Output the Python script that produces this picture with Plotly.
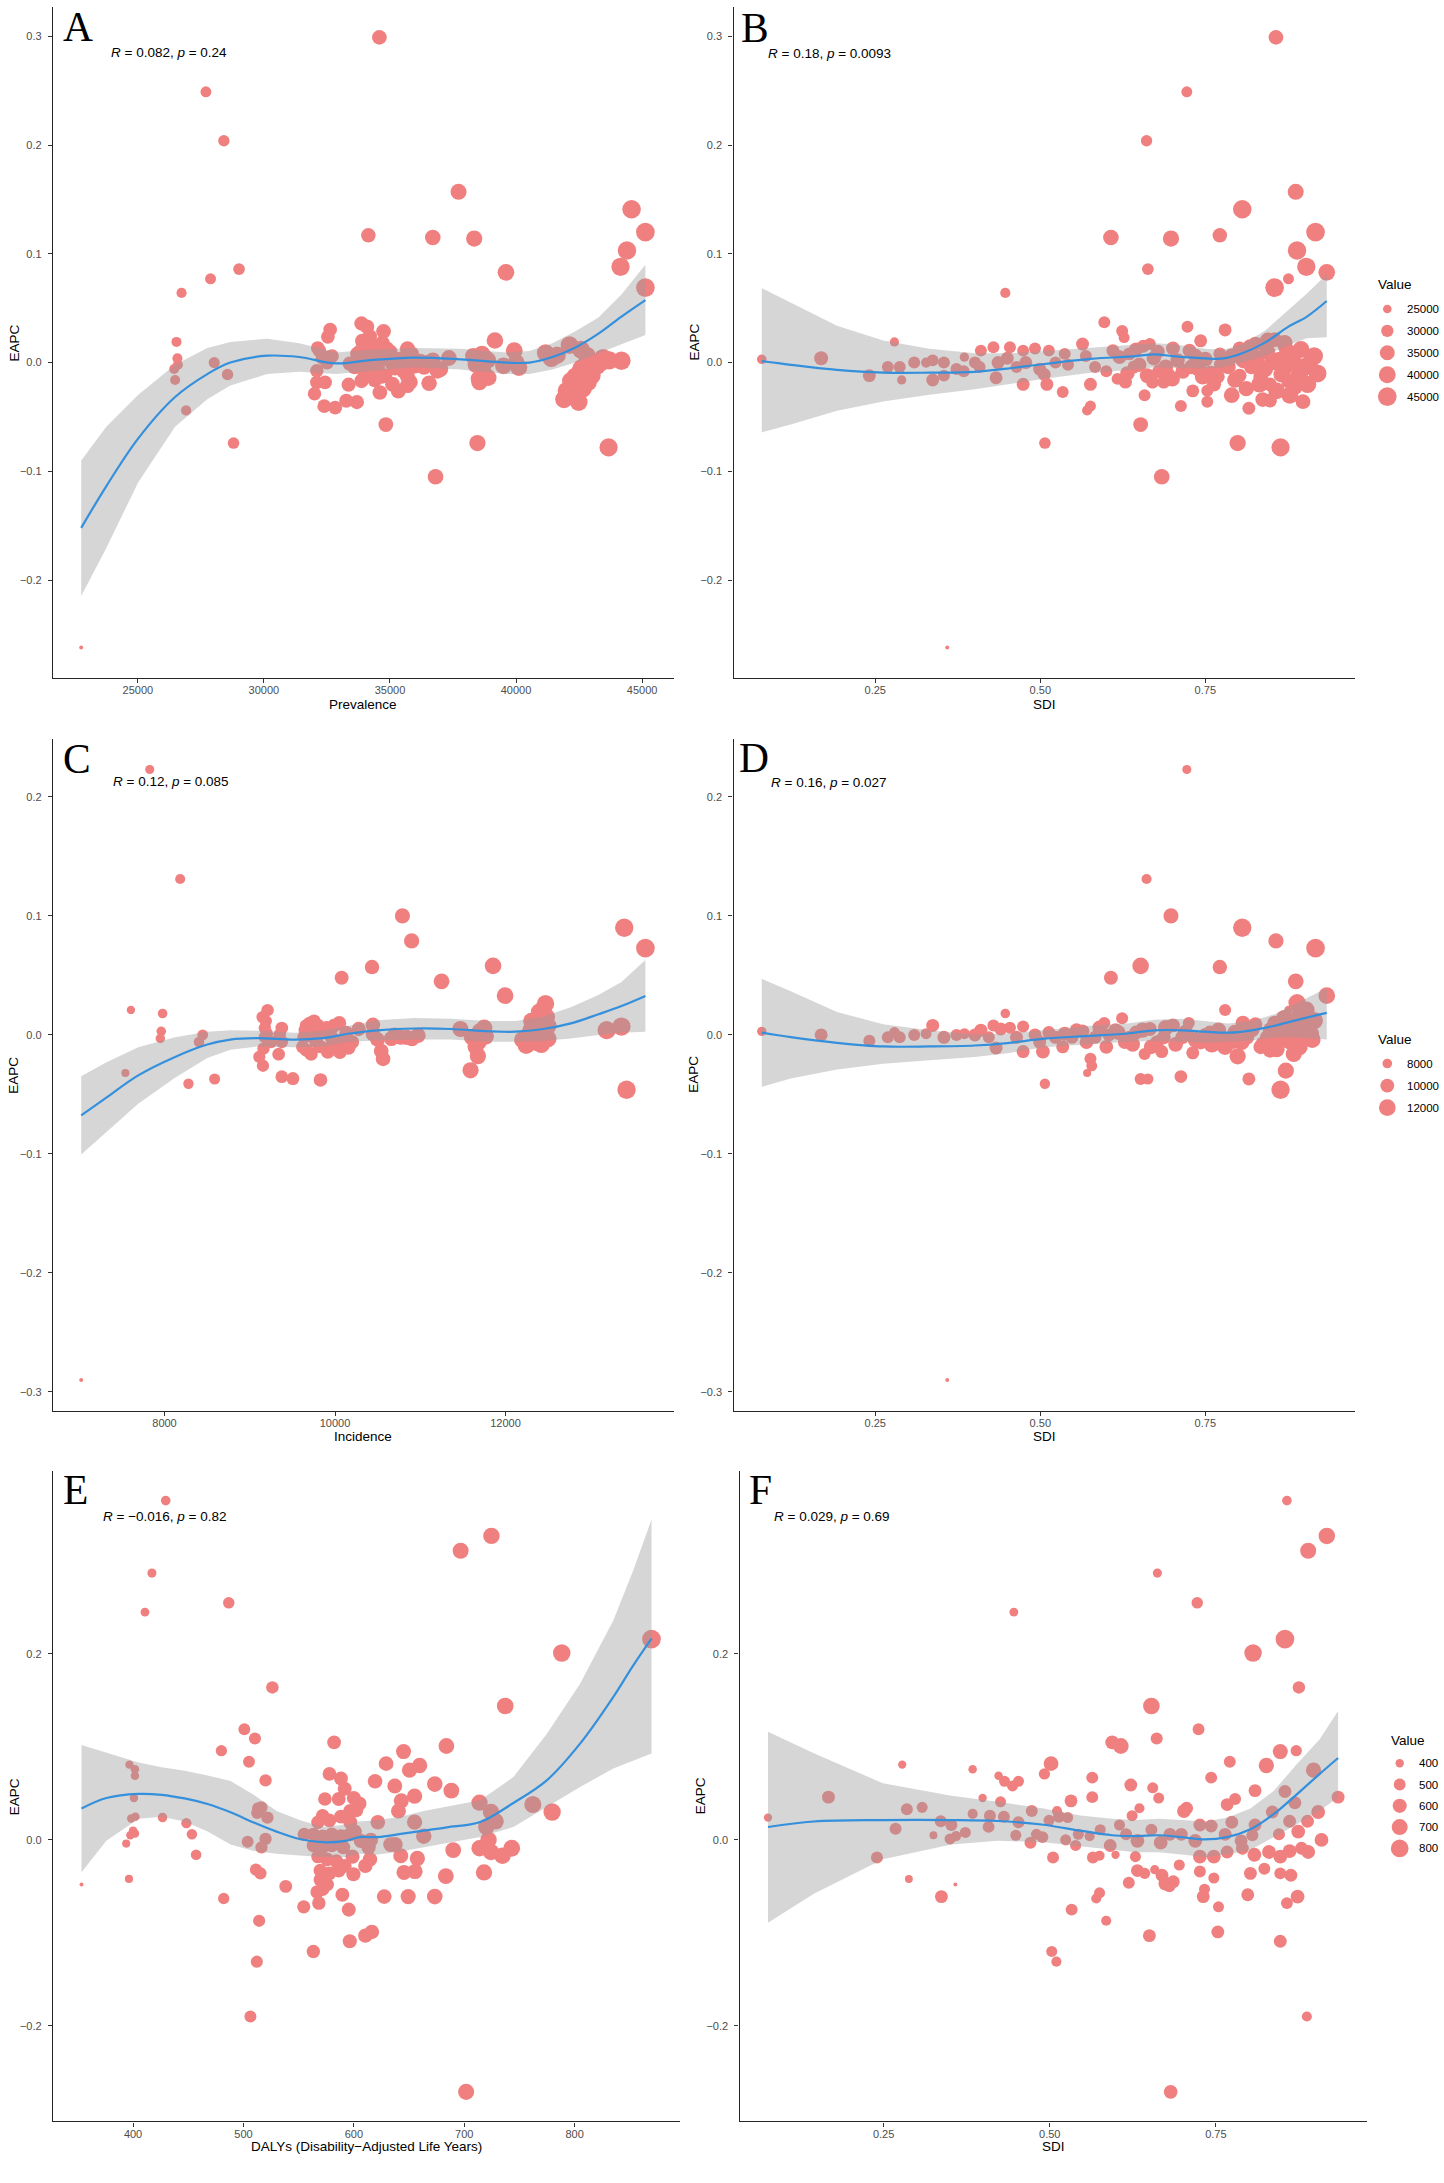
import plotly.graph_objects as go

W, H = 1444, 2183

# ---------- Data: Prevalence (A, B) ----------
a_prev = [34581, 27701, 28413, 37720, 44582, 45130, 34143, 36698, 38341, 44400,
          44144, 29015, 39600, 27884, 26734, 45130, 22755, 36807, 43670, 38469,
          28796, 34837, 26916, 28559, 28030, 26533, 26570, 26588, 26442, 26479,
          32136, 32537, 32629, 32318, 32099, 32501, 32592, 32099, 32428, 32008,
          32391, 32829, 33359, 33267, 33687, 33870, 34089, 33961, 34143, 33596,
          33870, 33778, 34326, 34508, 34746, 34873, 34691, 34600, 35056, 34782,
          34326, 35695, 35603, 35695, 35695, 35330, 35968, 36516, 36881, 36552,
          37337, 38432, 38523, 38706, 38888, 39162, 39929, 40111, 41170, 41626,
          42119, 42575, 42812, 43451, 44181, 41900, 42484, 42265, 42356, 42538,
          42721, 43086, 42173, 38600, 38750, 38800, 34000, 34300, 34500, 35000,
          35200, 33900, 34700, 35750, 35800, 36200, 42600, 42900, 43200, 42000,
          42450, 42700, 33400, 33700, 34200, 32700, 32200, 38400, 40000, 36000,
          33800, 34050, 34250, 34400, 34600, 34800, 34950, 35100, 35400, 35550,
          35850, 36350, 36700, 37000, 38300, 38550, 38650, 38900, 39500, 41400,
          42300, 42650, 42850, 43000, 43350, 43700]
a_eapc = [0.299, 0.249, 0.204, 0.157, 0.141, 0.120, 0.117, 0.115, 0.114, 0.103,
          0.088, 0.086, 0.083, 0.077, 0.064, 0.069, -0.262, -0.105, -0.078, -0.074,
          -0.074, -0.057, -0.044, -0.011, 0.000, 0.019, 0.004, -0.002, -0.006, -0.016,
          0.0135, 0.0237, 0.0304, 0.0042, -0.0076, 0.0000, 0.0051, -0.0182, -0.0182, -0.0287,
          -0.0401, -0.0414, -0.0203, -0.0351, -0.0363, 0.0359, 0.0330, 0.0169, 0.0042, -0.0042,
          -0.0169, 0.0000, 0.0127, -0.0042, 0.0287, 0.0127, -0.0127, -0.0275, 0.0000, 0.0042,
          -0.0127, 0.0127, 0.0000, -0.0127, -0.0211, -0.0262, 0.0000, 0.0000, -0.0076, -0.0190,
          0.0042, 0.0000, -0.0148, -0.0085, 0.0021, 0.0203, 0.0110, -0.0046, 0.0089, 0.0068,
          0.0161, 0.0118, 0.0063, 0.0042, 0.0017, -0.0338, -0.0363, -0.0232, -0.0127, -0.0085,
          -0.0042, -0.0021, -0.0169, -0.005, -0.012, 0.004, -0.010, 0.006, -0.008, 0.010,
          -0.005, 0.020, 0.018, 0.005, -0.018, 0.001, -0.005, -0.009, -0.003, -0.026,
          -0.020, -0.014, -0.001, 0.008, 0.024, 0.006, 0.011, -0.002, 0.000, -0.003,
          0.010, -0.004, 0.016, -0.016, 0.008, -0.012, 0.004, -0.020, 0.003, -0.008,
          0.008, -0.004, 0.002, -0.006, 0.006, -0.018, 0.008, -0.014, -0.003, 0.004,
          -0.030, -0.024, -0.018, -0.012, 0.000, 0.002]

b_sdi = [0.857, 0.722, 0.661, 0.887, 0.806, 0.917, 0.607, 0.698, 0.772, 0.889,
         0.903, 0.663, 0.934, 0.876, 0.447, 0.855, 0.359, 0.684, 0.864, 0.799,
         0.507, 0.652, 0.078, 0.168, 0.241, 0.269, 0.279, 0.287, 0.290, 0.309,
         0.327, 0.337, 0.337, 0.354, 0.354, 0.373, 0.385, 0.384, 0.401, 0.410,
         0.408, 0.429, 0.433, 0.436, 0.454, 0.450, 0.464, 0.474, 0.474, 0.478,
         0.492, 0.499, 0.506, 0.510, 0.513, 0.523, 0.534, 0.537, 0.542, 0.564,
         0.569, 0.576, 0.576, 0.571, 0.583, 0.597, 0.600, 0.610, 0.617, 0.624,
         0.627, 0.629, 0.635, 0.642, 0.656, 0.658, 0.666, 0.670, 0.680, 0.687,
         0.694, 0.701, 0.713, 0.723, 0.726, 0.729, 0.731, 0.743, 0.746, 0.753,
         0.753, 0.769, 0.772, 0.780, 0.785, 0.802, 0.802, 0.816, 0.820, 0.826,
         0.834, 0.837, 0.848, 0.848, 0.851, 0.855, 0.865, 0.872, 0.876, 0.882,
         0.886, 0.888, 0.898, 0.909,
         0.620, 0.632, 0.645, 0.650, 0.662, 0.672, 0.678, 0.690, 0.700, 0.708,
         0.716, 0.735, 0.740, 0.750, 0.758, 0.763, 0.775, 0.790, 0.795, 0.808,
         0.812, 0.828, 0.832, 0.840, 0.844, 0.858, 0.862, 0.868, 0.870, 0.878,
         0.880, 0.892, 0.895, 0.900, 0.905, 0.915, 0.920, 0.845, 0.818, 0.790]
b_eapc = [0.299, 0.249, 0.204, 0.157, 0.141, 0.120, 0.115, 0.114, 0.117, 0.103,
          0.088, 0.086, 0.083, 0.077, 0.064, 0.069, -0.262, -0.105, -0.078, -0.074,
          -0.074, -0.057, 0.003, 0.004, -0.012, -0.004, 0.019, -0.004, -0.016, 0.000,
          0.000, 0.002, -0.016, 0.000, -0.012, -0.006, 0.005, -0.008, 0.000, 0.011,
          -0.004, 0.014, -0.014, 0.000, 0.014, 0.004, -0.004, 0.011, -0.020, 0.000,
          0.013, -0.006, -0.011, -0.020, 0.011, 0.000, -0.027, 0.008, -0.002, 0.017,
          0.006, -0.020, -0.040, -0.044, -0.004, 0.037, -0.008, 0.011, -0.015, 0.029,
          0.023, -0.018, 0.008, -0.004, 0.015, -0.030, 0.017, -0.018, -0.008, -0.018,
          -0.011, 0.013, -0.040, 0.033, 0.011, -0.004, -0.026, 0.020, -0.013, -0.026,
          -0.036, -0.013, 0.008, 0.030, -0.004, 0.013, -0.012, -0.042, -0.004, 0.017,
          -0.013, -0.034, -0.035, -0.020, 0.000, 0.021, -0.011, 0.013, -0.017, 0.004,
          -0.023, -0.002, -0.036, 0.001,
          0.005, -0.010, 0.012, -0.002, -0.012, 0.004, 0.010, -0.004, -0.015, 0.002,
          -0.008, 0.006, -0.006, 0.003, -0.010, -0.020, -0.002, 0.006, -0.016, 0.002,
          -0.024, 0.004, -0.020, -0.006, 0.010, -0.026, 0.002, -0.006, 0.018, -0.030,
          0.008, -0.012, 0.012, -0.004, -0.020, 0.006, -0.010, 0.020, 0.014, -0.030]
b_prev = [34581, 27701, 28413, 37720, 44582, 45130, 36698, 38341, 34143, 44400,
          44144, 29015, 39600, 27884, 26734, 45130, 22755, 36807, 43670, 38469,
          28796, 34837, 26000, 33000, 31000, 29300, 25600, 29300, 25600, 29300,
          26700, 29300, 31000, 29300, 29300, 29300, 25600, 29300, 29300, 29300,
          29300, 29300, 31000, 31000, 29300, 31000, 29300, 29300, 31000, 31000,
          29300, 31000, 31000, 31000, 29300, 29300, 29300, 29300, 29300, 31000,
          29300, 31000, 27900, 26700, 29300, 29300, 29300, 31000, 29300, 29300,
          27900, 31000, 31000, 31000, 31000, 29300, 29300, 31000, 32700, 31000,
          32700, 32700, 29300, 29300, 32700, 34700, 31000, 31000, 36800, 29300,
          29300, 32700, 31000, 31000, 34700, 32700, 32700, 31000, 34700, 34700,
          34700, 34700, 32700, 32700, 36800, 34700, 36800, 34700, 34700, 36800,
          34700, 36800, 34700, 36800,
          33000, 34000, 33000, 34000, 35000, 34000, 33000, 35000, 36000, 34000,
          35000, 34000, 36000, 35000, 36000, 34000, 37000, 36000, 37000, 38000,
          36000, 38000, 39000, 40000, 37000, 40000, 41000, 42000, 38000, 40000,
          41000, 42000, 40000, 43000, 41000, 42000, 43000, 39000, 38000, 37000]

# ---------- Data: Incidence (C, D) ----------
c_inc = [7827, 8184, 10791, 10899, 10434, 10078, 11250, 11854, 11995, 13393,
         13641, 13420, 13187, 13360, 7023, 7541, 7606, 7978, 7962, 7951,
         8281, 8588, 8448, 8405, 9209, 9188, 9177, 9177, 9161, 9112,
         9155, 9339, 9376, 9376, 9376, 9506, 9663, 9700, 9754, 9663,
         9744, 9825, 9852, 9916, 9986, 10013, 10057, 10132, 10159, 10278,
         9830, 9959, 9636, 10445, 10445, 10542, 10564, 10661, 10769, 10904,
         10974, 11471, 11606, 11687, 11768, 11676, 11590, 12243, 12270, 12308,
         12389, 12399, 12443, 12470, 12497, 12497, 12335, 12416, 9700, 9900,
         9780, 10100, 9620, 9720, 12350, 12450, 11700, 10700, 10840, 9200,
         9650, 9800, 9950, 10050, 10200, 12300, 12420, 12480, 11750, 11650,
         10500, 9150, 9350, 9250, 12200]
c_eapc = [0.223, 0.131, 0.100, 0.079, 0.057, 0.048, 0.045, 0.058, 0.033, 0.090,
          0.073, -0.046, 0.004, 0.007, -0.290, -0.032, 0.021, 0.018, 0.003, -0.003,
          -0.041, -0.037, 0.000, -0.006, 0.0208, 0.0116, 0.0058, -0.0019, -0.0116, -0.0185,
          -0.0259, -0.0162, 0.0058, -0.0058, -0.0351, -0.0367, 0.0077, 0.0097, 0.0116, -0.0127,
          -0.0019, -0.0097, 0.0019, -0.0143, 0.0077, -0.0058, -0.0143, 0.0019, -0.0108, 0.0050,
          -0.0378, -0.0019, -0.0019, 0.0085, 0.0008, -0.0135, -0.0201, -0.0031, -0.0019, -0.0031,
          -0.0004, 0.0050, -0.0019, -0.0058, -0.0012, -0.0178, -0.0297, -0.0089, 0.0000, 0.0116,
          0.0077, 0.0193, 0.0220, 0.0262, 0.0077, -0.0031, -0.0019, 0.0019, 0.003, 0.006,
          -0.006, -0.004, -0.010, -0.016, -0.006, 0.005, 0.003, 0.000, -0.002, 0.001,
          0.004, 0.008, -0.010, 0.010, -0.006, 0.004, -0.008, 0.015, 0.006, -0.010,
          -0.004, 0.015, 0.000, -0.006, -0.004]

d_sdi = [0.722, 0.661, 0.698, 0.806, 0.857, 0.917, 0.652, 0.772, 0.607, 0.887,
         0.934, 0.889, 0.903, 0.780, 0.876, 0.447, 0.078, 0.168, 0.241, 0.359,
         0.507, 0.571, 0.576, 0.578, 0.652, 0.663, 0.713, 0.816, 0.864, 0.872,
         0.799, 0.731, 0.684, 0.658, 0.474, 0.504, 0.534, 0.433, 0.337, 0.429,
         0.474, 0.597, 0.624, 0.725, 0.807, 0.826, 0.855, 0.269, 0.279, 0.287,
         0.309, 0.327, 0.354, 0.373, 0.385, 0.401, 0.410, 0.422, 0.440, 0.454,
         0.464, 0.492, 0.499, 0.513, 0.523, 0.537, 0.548, 0.564, 0.583, 0.604,
         0.614, 0.628, 0.635, 0.645, 0.666, 0.677, 0.687, 0.701, 0.715, 0.743,
         0.750, 0.757, 0.771, 0.785, 0.792, 0.813, 0.834, 0.844, 0.848, 0.862,
         0.869, 0.879, 0.886, 0.896, 0.910, 0.900, 0.893,
         0.555, 0.570, 0.590, 0.600, 0.618, 0.640, 0.655, 0.668, 0.690, 0.705,
         0.720, 0.735, 0.760, 0.770, 0.780, 0.795, 0.805, 0.820, 0.838, 0.850,
         0.858, 0.866, 0.875, 0.884, 0.892, 0.905, 0.912, 0.884, 0.870, 0.915]
d_eapc = [0.223, 0.131, 0.100, 0.090, 0.079, 0.073, 0.058, 0.057, 0.048, 0.045,
          0.033, 0.027, 0.021, 0.021, 0.021, 0.018, 0.003, 0.000, -0.005, -0.290,
          -0.041, -0.032, -0.020, -0.026, -0.037, -0.037, -0.035, -0.037, -0.046, -0.030,
          -0.018, -0.015, -0.014, -0.016, -0.014, -0.014, -0.010, -0.011, 0.008, 0.008,
          0.007, 0.010, 0.014, 0.010, 0.010, 0.009, 0.010, -0.002, 0.002, -0.002,
          0.000, 0.001, -0.002, 0.000, 0.001, 0.000, 0.004, -0.002, 0.005, 0.006,
          -0.002, 0.000, -0.006, 0.002, -0.002, 0.001, -0.002, 0.003, -0.002, 0.000,
          0.004, -0.006, -0.002, 0.002, 0.005, -0.006, -0.002, 0.008, -0.002, -0.006,
          0.000, 0.002, -0.002, -0.004, -0.006, -0.002, -0.010, -0.002, -0.013, -0.004,
          0.002, -0.006, -0.002, 0.002, 0.001, 0.008, 0.017,
          0.004, -0.006, 0.006, -0.010, 0.002, -0.008, 0.004, -0.010, 0.006, -0.008,
          0.002, -0.004, -0.008, 0.004, -0.010, 0.002, -0.006, 0.005, -0.008, 0.004,
          -0.012, 0.006, -0.004, 0.010, -0.010, 0.004, -0.004, -0.016, 0.014, 0.012]
d_inc = [7827, 8184, 10791, 13393, 10899, 13641, 11854, 10434, 10078, 11250,
         11995, 12500, 12000, 9000, 7606, 7978, 7900, 9500, 9000, 7023,
         8281, 7541, 9000, 8500, 9000, 8588, 9400, 9500, 13420, 11590,
         11676, 9500, 9500, 9000, 9500, 10000, 9500, 9500, 9500, 9000,
         9000, 9000, 9000, 9000, 10500, 10000, 10500, 9000, 8500, 9000,
         9000, 8500, 9500, 9000, 8500, 9500, 9500, 9000, 9500, 9000,
         9500, 9500, 9500, 9500, 9500, 10000, 9500, 10000, 9500, 9500,
         10000, 10000, 9500, 10000, 10000, 10000, 10000, 10000, 10000, 10500,
         10000, 10000, 10500, 10500, 10000, 10500, 10500, 10500, 10500, 11000,
         11000, 11000, 11000, 11500, 11500, 11500, 12000,
         10000, 10000, 10500, 10000, 10500, 10500, 11000, 10500, 11000, 10500,
         11000, 11000, 11500, 11000, 11500, 11000, 11500, 12000, 11500, 12000,
         11500, 12000, 12500, 12000, 12500, 12500, 12000, 11500, 12000, 12500]

# ---------- Data: DALYs (E, F) ----------
e_daly = [429.6, 417.1, 410.8, 486.7, 526.2, 500.8, 510.4, 480.0, 505.0, 520.0,
          582.1, 696.7, 724.6, 788.3, 869.6, 737.1, 762.1, 779.6, 683.8, 645.0,
          629.2, 650.4, 659.6, 619.2, 637.1, 673.3, 688.3, 655.0, 643.0, 640.4,
          713.8, 724.2, 728.3, 720.0, 722.0, 724.2, 713.8, 734.6, 743.0, 717.9,
          690.0, 683.3, 673.3, 649.2, 627.5, 645.4, 655.4, 642.5, 657.5, 655.0,
          663.3, 637.5, 633.3, 621.7, 615.4, 613.3, 614.6, 610.4, 599.6, 589.6,
          595.4, 596.3, 610.4, 616.3, 563.3, 568.3, 554.6, 538.3, 514.2, 512.1,
          506.3, 482.1, 701.7, 457.1, 453.3, 448.3, 426.7, 402.1, 400.8, 401.7,
          401.7, 396.7, 398.3, 400.0, 401.7, 397.5, 393.8, 396.3, 353.3, 513.3,
          516.3, 521.7, 512.5, 520.0, 503.8, 516.3, 511.3, 515.4, 555.0, 577.9,
          588.3, 591.7, 573.8, 586.3, 600.0, 602.1, 571.7, 567.5, 577.9, 588.3,
          596.7, 563.3, 571.7, 580.0, 588.3, 596.7, 563.3, 571.7, 580.0, 590.4,
          598.8, 567.5, 575.8, 584.2, 569.6, 577.9, 586.3, 569.6, 575.8, 566.7,
          571.7, 591.7, 596.7, 605.0, 600.8, 606.3]
e_eapc = [0.365, 0.287, 0.245, 0.255, 0.164, 0.119, 0.109, 0.096, 0.084, 0.064,
          0.105, 0.311, 0.327, 0.201, 0.216, 0.144, 0.038, 0.030, 0.101, 0.095,
          0.082, 0.075, 0.080, 0.063, 0.058, 0.060, 0.053, 0.047, 0.042, 0.031,
          0.040, 0.030, 0.020, 0.014, 0.000, -0.013, -0.009, -0.017, -0.009, -0.035,
          -0.011, -0.039, -0.061, -0.061, -0.061, -0.035, -0.034, -0.017, -0.020, 0.019,
          0.004, -0.005, -0.005, 0.019, 0.000, -0.008, -0.021, -0.028, -0.037, -0.059,
          -0.075, -0.109, -0.103, -0.099, -0.120, -0.068, -0.072, -0.050, -0.087, -0.131,
          -0.190, -0.063, -0.271, -0.016, 0.006, 0.018, 0.024, 0.025, 0.045, 0.069,
          0.076, 0.081, 0.023, 0.010, 0.007, 0.005, -0.004, -0.042, -0.048, 0.034,
          0.035, 0.024, 0.029, 0.001, -0.002, -0.008, -0.032, -0.036, 0.006, 0.071,
          0.066, 0.055, 0.044, 0.044, 0.045, 0.032, 0.026, 0.019, 0.021, 0.025,
          0.019, 0.006, 0.004, 0.006, 0.004, 0.006, -0.006, -0.008, -0.006, -0.008,
          -0.018, -0.018, -0.021, -0.023, -0.033, -0.036, -0.033, -0.043, -0.048, -0.056,
          -0.053, -0.028, 0.031, 0.039, 0.009, -0.001]

f_sdi = [0.857, 0.662, 0.722, 0.446, 0.875, 0.917, 0.889, 0.854, 0.806, 0.653,
         0.724, 0.661, 0.594, 0.607, 0.871, 0.847, 0.771, 0.278, 0.826, 0.502,
         0.384, 0.897, 0.492, 0.423, 0.432, 0.453, 0.444, 0.564, 0.743, 0.622,
         0.655, 0.809, 0.854, 0.167, 0.399, 0.532, 0.564, 0.664, 0.779, 0.767,
         0.934, 0.869, 0.426, 0.285, 0.308, 0.702, 0.706, 0.835, 0.904, 0.635,
         0.624, 0.511, 0.076, 0.268, 0.240, 0.288, 0.358, 0.325, 0.337, 0.533,
         0.585, 0.503, 0.510, 0.887, 0.682, 0.650, 0.753, 0.847, 0.754, 0.731,
         0.798, 0.857, 0.873, 0.575, 0.570, 0.619, 0.674, 0.680, 0.669, 0.686,
         0.733, 0.747, 0.726, 0.802, 0.823, 0.863, 0.847, 0.632, 0.643, 0.658,
         0.695, 0.565, 0.575, 0.599, 0.629, 0.505, 0.726, 0.747, 0.767, 0.790,
         0.808, 0.830, 0.847, 0.861, 0.879, 0.889, 0.909, 0.874, 0.888, 0.845,
         0.861, 0.809, 0.805, 0.788, 0.774, 0.764, 0.743, 0.726, 0.719, 0.698,
         0.681, 0.667, 0.653, 0.632, 0.615, 0.605, 0.591, 0.576, 0.560, 0.543,
         0.524, 0.539, 0.514, 0.499, 0.489, 0.480, 0.471, 0.473, 0.453, 0.449,
         0.431, 0.408, 0.410, 0.384, 0.352, 0.373, 0.350, 0.359, 0.336, 0.527]
f_eapc = [0.365, 0.287, 0.255, 0.245, 0.164, 0.327, 0.311, 0.216, 0.201, 0.144,
          0.119, 0.109, 0.105, 0.101, 0.096, 0.095, 0.084, 0.081, 0.080, 0.082,
          0.076, 0.075, 0.071, 0.069, 0.063, 0.063, 0.058, 0.067, 0.067, 0.059,
          0.056, 0.053, 0.052, 0.046, 0.045, 0.042, 0.046, 0.045, 0.044, 0.038,
          0.046, 0.040, 0.041, 0.033, 0.035, 0.031, 0.034, 0.030, 0.030, 0.034,
          0.026, 0.031, 0.024, 0.012, -0.019, -0.042, -0.048, 0.005, -0.061, -0.075,
          -0.087, -0.120, -0.131, -0.190, -0.271, -0.103, -0.099, -0.109, -0.072, -0.061,
          -0.059, -0.068, -0.061, -0.057, -0.063, -0.046, -0.047, -0.050, -0.038, -0.045,
          -0.053, -0.041, -0.034, -0.036, -0.031, -0.038, -0.036, -0.033, -0.036, -0.032,
          -0.027, -0.019, -0.017, -0.016, -0.018, -0.019, -0.018, -0.018, -0.013, -0.009,
          -0.016, -0.013, -0.018, -0.012, -0.009, -0.013, 0.000, 0.009, 0.020, 0.006,
          0.020, 0.016, 0.005, -0.001, 0.019, 0.006, 0.015, 0.016, -0.001, 0.006,
          0.006, -0.003, 0.011, -0.001, 0.006, 0.016, -0.006, 0.011, 0.004, 0.006,
          0.000, -0.006, 0.025, 0.021, 0.003, 0.006, -0.003, 0.031, 0.019, 0.005,
          0.025, 0.014, 0.026, 0.028, 0.016, 0.008, 0.001, 0.004, 0.020, 0.024]
f_daly = [430, 417, 487, 411, 526, 725, 697, 869, 788, 737,
          501, 510, 582, 684, 480, 645, 505, 397, 660, 629,
          402, 650, 480, 402, 470, 470, 470, 505, 505, 542,
          472, 542, 542, 542, 400, 542, 505, 472, 505, 542,
          542, 542, 472, 505, 472, 583, 542, 542, 583, 443,
          472, 443, 398, 505, 505, 390, 353, 390, 542, 505,
          443, 472, 443, 443, 583, 542, 542, 542, 472, 542,
          542, 505, 583, 472, 443, 505, 583, 505, 542, 542,
          472, 472, 505, 542, 505, 542, 505, 542, 472, 418,
          472, 505, 443, 397, 472, 505, 583, 583, 542, 542,
          583, 583, 583, 583, 542, 583, 583, 583, 542, 505,
          542, 542, 505, 542, 542, 542, 542, 542, 583, 542,
          542, 583, 505, 583, 505, 472, 542, 472, 443, 472,
          472, 472, 505, 472, 505, 472, 505, 505, 505, 472,
          505, 505, 505, 443, 505, 472, 472, 443, 505, 472]

# ---------- Smooth fits ----------
a_fit_x = [22755, 23741, 25018, 26478, 27756, 28668, 30128, 31406, 32866, 34143,
           35968, 37793, 39618, 40531, 41443, 42356, 43268, 44181, 45130]
a_fit_y = [-0.152, -0.114, -0.0697, -0.0317, -0.0106, 0.0, 0.0063, 0.0051, -0.0008, 0.0021,
           0.0046, 0.003, 0.0, 0.0, 0.0051, 0.0139, 0.0266, 0.0423, 0.0575]
a_fit_hi = [-0.090, -0.0592, -0.0296, -0.0021, 0.0135, 0.019, 0.022, 0.0177, 0.0093, 0.0118,
            0.0135, 0.0127, 0.0093, 0.0106, 0.0177, 0.0287, 0.0414, 0.0625, 0.090]
a_fit_lo = [-0.2146, -0.171, -0.110, -0.059, -0.0338, -0.0211, -0.0106, -0.0085, -0.0106, -0.0076,
            -0.0042, -0.0063, -0.0106, -0.0106, -0.0063, 0.0, 0.0085, 0.0169, 0.0254]

b_fit_x = [0.078, 0.122, 0.192, 0.262, 0.332, 0.401, 0.450, 0.506, 0.576, 0.645,
           0.673, 0.701, 0.750, 0.778, 0.806, 0.841, 0.876, 0.904, 0.934]
b_fit_y = [0.0013, -0.0021, -0.0068, -0.0093, -0.0093, -0.0085, -0.0055, -0.0013, 0.0034, 0.0059,
           0.0076, 0.0059, 0.0038, 0.0038, 0.0085, 0.0186, 0.033, 0.0423, 0.0566]
b_fit_hi = [0.0684, 0.0549, 0.0338, 0.0203, 0.0127, 0.0085, 0.0085, 0.0106, 0.0135, 0.0169,
            0.0177, 0.0169, 0.0127, 0.0118, 0.0169, 0.0296, 0.0486, 0.0634, 0.0811]
b_fit_lo = [-0.0642, -0.057, -0.0444, -0.0359, -0.0296, -0.0245, -0.0203, -0.0148, -0.0093, -0.0063,
            -0.0042, -0.0051, -0.0055, -0.0042, 0.0, 0.0063, 0.0161, 0.0224, 0.0232]

c_fit_x = [7023, 7314, 7692, 8124, 8502, 8772, 9096, 9528, 9852, 10175,
           10499, 10931, 11363, 11795, 12119, 12443, 12766, 13090, 13360, 13641]
c_fit_y = [-0.0676, -0.0529, -0.034, -0.0185, -0.0081, -0.0039, -0.0027, -0.0039, -0.0027, 0.0012,
           0.0039, 0.0054, 0.005, 0.0031, 0.0027, 0.005, 0.0097, 0.0174, 0.0243, 0.0328]
c_fit_hi = [-0.0347, -0.0232, -0.0104, -0.0019, 0.0027, 0.0039, 0.0035, 0.0019, 0.0035, 0.0077,
            0.0124, 0.0143, 0.0135, 0.0116, 0.0116, 0.0154, 0.0232, 0.0336, 0.0444, 0.0629]
c_fit_lo = [-0.1004, -0.0822, -0.0579, -0.0359, -0.0193, -0.0124, -0.0097, -0.0104, -0.0097, -0.0058,
            -0.0046, -0.0039, -0.0039, -0.0058, -0.0058, -0.005, -0.0031, 0.0, 0.0019, 0.0027]

d_fit_x = [0.078, 0.122, 0.192, 0.262, 0.332, 0.401, 0.450, 0.506, 0.576, 0.632,
           0.673, 0.715, 0.750, 0.785, 0.820, 0.855, 0.890, 0.934]
d_fit_y = [0.0019, -0.0019, -0.0066, -0.0097, -0.0097, -0.0089, -0.0069, -0.0031, -0.0008, 0.0012,
           0.0039, 0.0039, 0.0027, 0.0019, 0.0039, 0.0077, 0.0127, 0.0185]
d_fit_hi = [0.0471, 0.0367, 0.0193, 0.0089, 0.0039, 0.0004, 0.0012, 0.0039, 0.0077, 0.0097,
            0.0127, 0.0135, 0.0116, 0.0097, 0.0116, 0.0174, 0.027, 0.0394]
d_fit_lo = [-0.0436, -0.0367, -0.029, -0.0243, -0.0212, -0.0185, -0.0154, -0.0104, -0.0077, -0.0058,
            -0.005, -0.0058, -0.0066, -0.0058, -0.0046, -0.0019, -0.0019, -0.0039]

e_fit_x = [353.3, 375.8, 405.0, 425.8, 446.7, 467.5, 488.3, 509.2, 530.0, 550.8,
           571.7, 592.5, 605.0, 621.7, 642.5, 663.3, 684.2, 714.4, 744.5, 774.7,
           804.9, 835.0, 853.1, 869.6]
e_fit_y = [0.0337, 0.045, 0.0495, 0.0485, 0.0446, 0.0386, 0.0297, 0.0188, 0.0089, 0.001,
           -0.0025, -0.001, 0.003, 0.003, 0.0064, 0.0100, 0.0135, 0.0192, 0.0397, 0.064,
           0.1035, 0.1537, 0.1877, 0.2165]
e_fit_hi = [0.102, 0.094, 0.0832, 0.0782, 0.0743, 0.0693, 0.0634, 0.0485, 0.0312, 0.0213,
            0.0139, 0.0163, 0.0198, 0.0213, 0.0248, 0.0312, 0.0361, 0.0426, 0.0676, 0.114,
            0.168, 0.236, 0.290, 0.3445]
e_fit_lo = [-0.0347, -0.001, 0.0228, 0.0248, 0.0198, 0.0089, -0.005, -0.0119, -0.0149, -0.0168,
            -0.0183, -0.0183, -0.0149, -0.0158, -0.0124, -0.0084, -0.0035, 0.003, 0.0139, 0.0354,
            0.0569, 0.0767, 0.085, 0.0928]

f_fit_x = [0.076, 0.145, 0.249, 0.352, 0.422, 0.491, 0.546, 0.594, 0.629, 0.664,
           0.698, 0.733, 0.767, 0.802, 0.837, 0.871, 0.906, 0.934]
f_fit_y = [0.0139, 0.0198, 0.0213, 0.0213, 0.0203, 0.0163, 0.0099, 0.005, 0.004, 0.005,
           0.003, 0.0005, 0.003, 0.0114, 0.0277, 0.0485, 0.0708, 0.0881]
f_fit_hi = [0.1163, 0.0931, 0.0609, 0.0475, 0.0411, 0.0337, 0.0262, 0.0228, 0.0213, 0.0228,
            0.0213, 0.0198, 0.0238, 0.0337, 0.0525, 0.0807, 0.1079, 0.1386]
f_fit_lo = [-0.0891, -0.0579, -0.0208, -0.005, -0.001, -0.0025, -0.0069, -0.0109, -0.0134, -0.0134,
            -0.0158, -0.0183, -0.0158, -0.0109, 0.003, 0.0163, 0.0312, 0.046]

# ---------- Labels ----------
r_labels = {
    "A": "<i>R</i> = 0.082, <i>p</i> = 0.24",
    "B": "<i>R</i> = 0.18, <i>p</i> = 0.0093",
    "C": "<i>R</i> = 0.12, <i>p</i> = 0.085",
    "D": "<i>R</i> = 0.16, <i>p</i> = 0.027",
    "E": "<i>R</i> = \u22120.016, <i>p</i> = 0.82",
    "F": "<i>R</i> = 0.029, <i>p</i> = 0.69",
}
legend_prev = [25000, 30000, 35000, 40000, 45000]
legend_inc = [8000, 10000, 12000]
legend_daly = [400, 500, 600, 700, 800]

# ---------- Styles ----------
POINT = "#F08080"
BAND = "rgba(153,153,153,0.4)"
LINE = "#3490DC"
SANS = "Liberation Sans, Arial, sans-serif"
SERIF = "Liberation Serif, Times New Roman, serif"
TICK_GREY = "#4D4D4D"


def sizes(vals, vmin, vmax, dmin=4.0, dmax=18.7):
    out = []
    for v in vals:
        t = min(max((v - vmin) / (vmax - vmin), 0.0), 1.0)
        out.append(dmin + (dmax - dmin) * t ** 0.5)
    return out


def expand(*seqs):
    lo = min(min(s) for s in seqs)
    hi = max(max(s) for s in seqs)
    pad = (hi - lo) * 0.05
    return [lo - pad, hi + pad]


prev_rng = (min(a_prev), max(a_prev))
inc_rng = (min(c_inc), max(c_inc))
daly_rng = (min(e_daly), max(e_daly))

sdi_ticks = [0.25, 0.50, 0.75]
# px boxes: left, right, top, bottom
panels = [
    dict(key="A", x=a_prev, y=a_eapc, v=a_prev, vr=prev_rng,
         fit=(a_fit_x, a_fit_y, a_fit_lo, a_fit_hi), box=(53, 673.6, 6.9, 678),
         xt=[25000, 30000, 35000, 40000, 45000], xf="d",
         yt=[-0.2, -0.1, 0.0, 0.1, 0.2, 0.3], xtitle="Prevalence",
         letter=(61, 27), rpos=(109.3, 52.7), ytx=14, xty=704.4),
    dict(key="B", x=b_sdi, y=b_eapc, v=b_prev, vr=prev_rng,
         fit=(b_fit_x, b_fit_y, b_fit_lo, b_fit_hi), box=(733.5, 1355, 6.9, 678),
         xt=sdi_ticks, xf=".2f",
         yt=[-0.2, -0.1, 0.0, 0.1, 0.2, 0.3], xtitle="SDI",
         letter=(738.5, 27.5), rpos=(766, 53), ytx=694, xty=704.4),
    dict(key="C", x=c_inc, y=c_eapc, v=c_inc, vr=inc_rng,
         fit=(c_fit_x, c_fit_y, c_fit_lo, c_fit_hi), box=(53, 673.6, 739, 1410.6),
         xt=[8000, 10000, 12000], xf="d",
         yt=[-0.3, -0.2, -0.1, 0.0, 0.1, 0.2], xtitle="Incidence",
         letter=(60.5, 759), rpos=(111.4, 781.7), ytx=14, xty=1436.4),
    dict(key="D", x=d_sdi, y=d_eapc, v=d_inc, vr=inc_rng,
         fit=(d_fit_x, d_fit_y, d_fit_lo, d_fit_hi), box=(733.5, 1355, 739, 1410.6),
         xt=sdi_ticks, xf=".2f",
         yt=[-0.3, -0.2, -0.1, 0.0, 0.1, 0.2], xtitle="SDI",
         letter=(736.5, 757.5), rpos=(769, 782.5), ytx=694, xty=1436.4),
    dict(key="E", x=e_daly, y=e_eapc, v=e_daly, vr=daly_rng,
         fit=(e_fit_x, e_fit_y, e_fit_lo, e_fit_hi), box=(53, 680, 1471, 2121.4),
         xt=[400, 500, 600, 700, 800], xf="d",
         yt=[-0.2, 0.0, 0.2], xtitle="DALYs (Disability\u2212Adjusted Life Years)",
         letter=(60.5, 1489.5), rpos=(101.3, 1516), ytx=14, xty=2146.7),
    dict(key="F", x=f_sdi, y=f_eapc, v=f_daly, vr=daly_rng,
         fit=(f_fit_x, f_fit_y, f_fit_lo, f_fit_hi), box=(739.5, 1366.6, 1471, 2121.4),
         xt=sdi_ticks, xf=".2f",
         yt=[-0.2, 0.0, 0.2], xtitle="SDI",
         letter=(746.5, 1489.5), rpos=(771.7, 1516), ytx=700, xty=2146.7),
]

fig = go.Figure()
annotations = []
layout_axes = {}


def ann(text, px, py, size, family=SANS, color="black", xanchor="left", angle=0):
    annotations.append(dict(text=text, x=px / W, y=1 - py / H, xref="paper", yref="paper",
                            showarrow=False, xanchor=xanchor, yanchor="middle",
                            textangle=angle, font=dict(size=size, family=family, color=color)))


for i, p in enumerate(panels, start=1):
    sfx = "" if i == 1 else str(i)
    xa, ya = "x" + sfx, "y" + sfx
    left, right, top, bottom = p["box"]
    fx, fy, flo, fhi = p["fit"]

    # points
    fig.add_trace(go.Scatter(x=p["x"], y=p["y"], mode="markers", xaxis=xa, yaxis=ya,
                             marker=dict(color=POINT, opacity=1, size=sizes(p["v"], *p["vr"]),
                                         line=dict(width=0)),
                             showlegend=False, hoverinfo="skip"))
    # confidence band drawn over the points
    fig.add_trace(go.Scatter(x=fx + fx[::-1], y=fhi + flo[::-1], mode="lines", fill="toself",
                             fillcolor=BAND, line=dict(width=0), xaxis=xa, yaxis=ya,
                             showlegend=False, hoverinfo="skip"))
    # fitted line
    fig.add_trace(go.Scatter(x=fx, y=fy, mode="lines", line=dict(color=LINE, width=2.2, shape="spline"),
                             xaxis=xa, yaxis=ya, showlegend=False, hoverinfo="skip"))

    common = dict(showgrid=False, zeroline=False, showline=True, linecolor="#262626", linewidth=1.3,
                  ticks="outside", ticklen=4, tickwidth=1.1, tickcolor="#333333",
                  tickfont=dict(family=SANS, size=11, color=TICK_GREY))
    layout_axes["xaxis" + sfx] = dict(common, domain=[left / W, right / W], anchor=ya,
                                      range=expand(p["x"], fx), tickvals=p["xt"], tickformat=p["xf"],
                                      ticklabelstandoff=-2)
    layout_axes["yaxis" + sfx] = dict(common, domain=[1 - bottom / H, 1 - top / H], anchor=xa,
                                      range=expand(p["y"], flo, fhi), tickvals=p["yt"], tickformat=".1f",
                                      ticklabelstandoff=4)

    ann(p["key"], p["letter"][0], p["letter"][1], 41.5, family=SERIF)
    ann(r_labels[p["key"]], p["rpos"][0], p["rpos"][1], 13.5)
    ann(p["xtitle"], (left + right) / 2, p["xty"], 13.5, xanchor="center")
    ann("EAPC", p["ytx"], (top + bottom) / 2, 13.5, xanchor="center", angle=-90)

# ---------- size legends (overlay axis in pixel units) ----------
legends = [
    dict(vals=legend_prev, vr=prev_rng, title=(1376, 285), key_x=1387.3, lab_x=1405, y0=309, dy=21.9),
    dict(vals=legend_inc, vr=inc_rng, title=(1376, 1039), key_x=1387.3, lab_x=1405, y0=1063.5, dy=22.1),
    dict(vals=legend_daly, vr=daly_rng, title=(1389, 1740), key_x=1399.7, lab_x=1417, y0=1763.2, dy=21.3),
]
for lg in legends:
    ys = [lg["y0"] + k * lg["dy"] for k in range(len(lg["vals"]))]
    fig.add_trace(go.Scatter(x=[lg["key_x"]] * len(ys), y=ys, mode="markers", xaxis="x7", yaxis="y7",
                             marker=dict(color=POINT, opacity=1, size=sizes(lg["vals"], *lg["vr"]),
                                         line=dict(width=0)),
                             showlegend=False, hoverinfo="skip"))
    ann("Value", lg["title"][0], lg["title"][1], 13.5)
    for val, yy in zip(lg["vals"], ys):
        ann(str(val), lg["lab_x"], yy, 11.5)

layout_axes["xaxis7"] = dict(domain=[0, 1], range=[0, W], visible=False, anchor="y7")
layout_axes["yaxis7"] = dict(domain=[0, 1], range=[H, 0], visible=False, anchor="x7")

fig.update_layout(
    width=W, height=H,
    margin=dict(l=0, r=0, t=0, b=0),
    paper_bgcolor="white", plot_bgcolor="rgba(0,0,0,0)",
    showlegend=False,
    font=dict(family=SANS, color="black"),
    annotations=annotations,
    **layout_axes,
)

fig.write_html("out.html", config={"displayModeBar": False},
               post_script="document.body.style.margin='0';document.body.style.overflow='hidden';")
